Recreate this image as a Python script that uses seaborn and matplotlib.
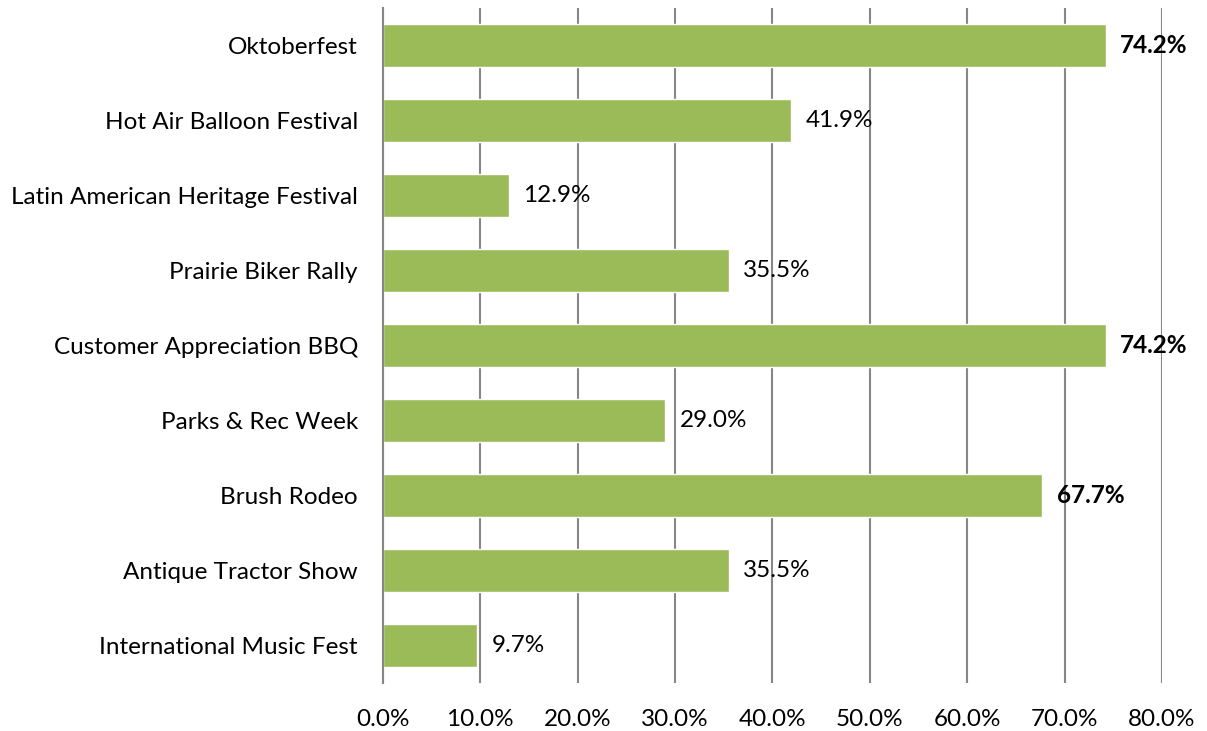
import pandas as pd
import matplotlib.pyplot as plt
import seaborn as sns

# events and share of respondents (percent)
events = ['Oktoberfest', 'Hot Air Balloon Festival', 'Latin American Heritage Festival',
          'Prairie Biker Rally', 'Customer Appreciation BBQ', 'Parks & Rec Week',
          'Brush Rodeo', 'Antique Tractor Show', 'International Music Fest']
pcts = [74.2, 41.9, 12.9, 35.5, 74.2, 29.0, 67.7, 35.5, 9.7]
ticks = [0, 10, 20, 30, 40, 50, 60, 70, 80]

df = pd.DataFrame({'event': events, 'pct': pcts})

sns.set_style('white')
plt.rcParams['font.family'] = ['Lato', 'DejaVu Sans']
plt.rcParams['text.color'] = 'black'
plt.rcParams['xtick.color'] = 'black'
plt.rcParams['ytick.color'] = 'black'

fig = plt.figure(figsize=(12.07, 7.31), dpi=100)
ax = fig.add_axes([0.3173, 0.066, 0.6454, 0.923])

sns.barplot(data=df, x='pct', y='event', orient='h', color='#9BBB59',
            saturation=1, width=0.58, ax=ax, zorder=2)

ax.set_xlim(0, 80)
ax.set_ylim(8.5, -0.5)
ax.set_xticks(ticks)
ax.set_xticklabels([f'{t:.1f}%' for t in ticks], fontsize=17.5)
ax.tick_params(axis='x', length=0, pad=19)
ax.tick_params(axis='y', length=0, pad=18, labelsize=17.5)
ax.set_xlabel('')
ax.set_ylabel('')

#vertical gridlines drawn behind bars
ax.grid(axis='x', color='#868686', linewidth=1.5, zorder=1)
ax.set_axisbelow(True)
for s in ['top', 'right', 'bottom']:
    ax.spines[s].set_visible(False)
ax.spines['left'].set_color('#868686')
ax.spines['left'].set_linewidth(1.5)

for i, v in enumerate(pcts):
    ax.text(v + 1.5, i, f'{v:.1f}%', va='center', ha='left', fontsize=17.5,
            fontweight='bold' if v > 60 else 'normal', zorder=3)

fig.savefig('out.png', dpi=100)
